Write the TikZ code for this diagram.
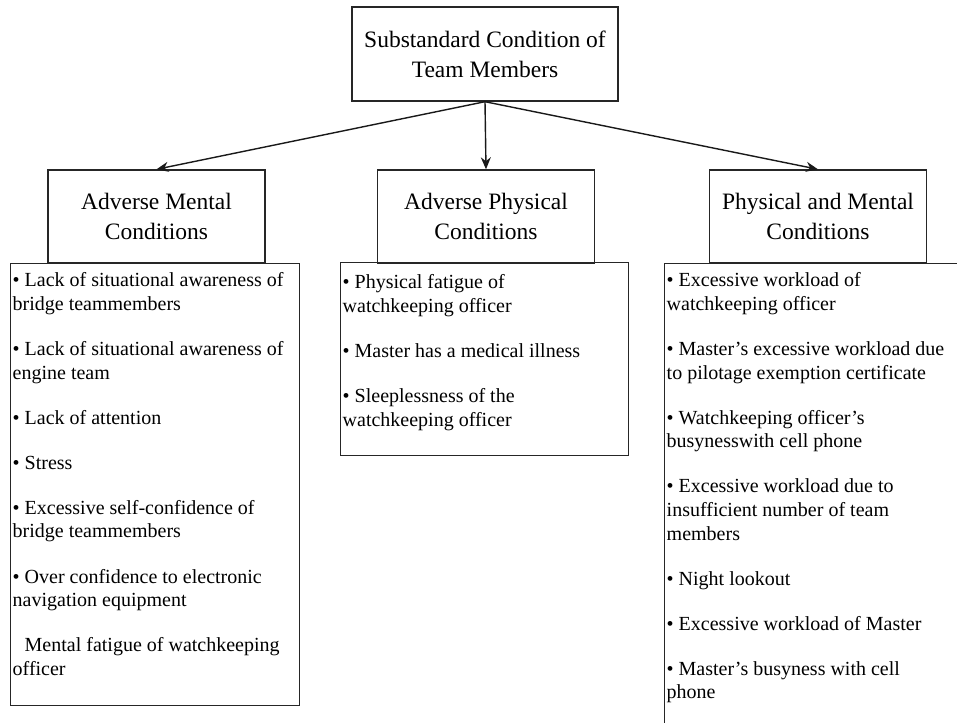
\documentclass[tikz,border=0pt]{standalone}
\usepackage{fontspec}
\setmainfont{Liberation Serif}
\usepackage{tikz}
\usetikzlibrary{arrows,arrows.meta,positioning}
\tikzstyle{heading}=[rectangle,draw=black!85,line width=1.4pt,minimum width=217pt,minimum height=93pt,inner sep=0pt,align=center,font=\fontsize{23.5}{30}\selectfont]
\tikzstyle{listbox}=[rectangle,draw=black!85,line width=1.4pt,anchor=north west,inner sep=0pt]
\tikzstyle{items}=[anchor=north west,inner xsep=2pt,inner ysep=9pt,align=left,font=\fontsize{20}{23.6}\selectfont]

\begin{document}
\begin{tikzpicture}[x=1pt,y=-1pt,->,>={Stealth[length=12pt,width=10pt]},line width=1.4pt,draw=black!90]
  \useasboundingbox (0,0) rectangle (957,722);
  \clip (0,0) rectangle (957,722);

  \node[heading,minimum width=266pt,minimum height=94pt] (top) at (485,54) {Substandard Condition of\\Team Members};
  \node[heading] (hl) at (156.5,216.5) {Adverse Mental\\Conditions};
  \node[heading] (hm) at (486,216.5)   {Adverse Physical\\Conditions};
  \node[heading] (hr) at (818,216.5)   {Physical and Mental\\Conditions};

  % lists under the headings
  \node[listbox,minimum width=289pt,minimum height=442pt] (lbox) at (10,263) {};
  \node[listbox,minimum width=288pt,minimum height=193pt] (mbox) at (340,262) {};
  \node[listbox,minimum width=330pt,minimum height=500pt] (rbox) at (664,263) {};

  \node[items] (ltext) at (lbox.north west) {\textbullet{} Lack of situational awareness of\\
    bridge teammembers\\[21.5pt]
    \textbullet{} Lack of situational awareness of\\
    engine team\\[21.5pt]
    \textbullet{} Lack of attention\\[21.5pt]
    \textbullet{} Stress\\[21.5pt]
    \textbullet{} Excessive self-confidence of\\
    bridge teammembers\\[21.5pt]
    \textbullet{} Over confidence to electronic\\
    navigation equipment\\[21.5pt]
    \phantom{\textbullet{}} Mental fatigue of watchkeeping\\
    officer};
  \node[items,yshift=-3pt] (mtext) at (mbox.north west) {\textbullet{} Physical fatigue of\\
    watchkeeping officer\\[21.5pt]
    \textbullet{} Master has a medical illness\\[21.5pt]
    \textbullet{} Sleeplessness of the\\
    watchkeeping officer};
  \node[items] (rtext) at (rbox.north west) {\textbullet{} Excessive workload of\\
    watchkeeping officer\\[21.5pt]
    \textbullet{} Master's excessive workload due\\
    to pilotage exemption certificate\\[21.5pt]
    \textbullet{} Watchkeeping officer's\\
    busynesswith cell phone\\[21.5pt]
    \textbullet{} Excessive workload due to\\
    insufficient number of team\\
    members\\[21.5pt]
    \textbullet{} Night lookout\\[21.5pt]
    \textbullet{} Excessive workload of Master\\[21.5pt]
    \textbullet{} Master's busyness with cell\\
    phone};

  \path (top.south) edge (hl.north)
                    edge (hm.north)
                    edge (hr.north);
\end{tikzpicture}
\end{document}
